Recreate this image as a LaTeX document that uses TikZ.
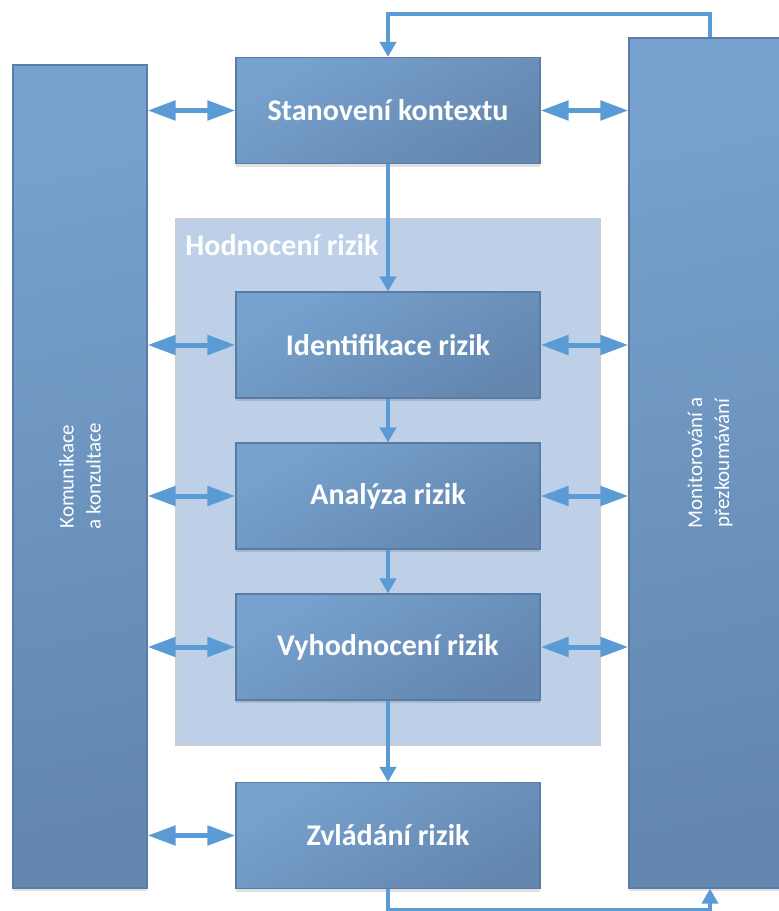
\documentclass[tikz,border=0pt]{standalone}
\usepackage{fontspec}
\setmainfont{Carlito}
\usetikzlibrary{arrows.meta,calc,shadows}

\definecolor{boxtop}{HTML}{77A2CF}
\definecolor{boxbot}{HTML}{6387AF}
\definecolor{boxline}{HTML}{5A7BA3}
\definecolor{flowblue}{HTML}{5B9BD5}
\definecolor{groupfill}{HTML}{BDD0E8}
\definecolor{groupline}{HTML}{C9CCD1}

\begin{document}
\begin{tikzpicture}[x=1pt,y=-1pt,
  softshadow/.style={drop shadow={shadow xshift=0pt,shadow yshift=-3pt,opacity=0.12,fill=black}},
  stagebox/.style={draw=boxline,line width=1.2pt,top color=boxtop,bottom color=boxbot,
    shading angle=30,minimum width=304pt,minimum height=106pt,inner sep=0pt,
    text=white,font=\fontsize{30}{36}\selectfont\bfseries,softshadow},
  sidebox/.style={draw=boxline,line width=1.2pt,top color=boxtop,bottom color=boxbot,
    shading angle=12,inner sep=0pt,softshadow},
  sidetext/.style={rotate=90,text=white,align=center,
    font=\fontsize{21}{27}\selectfont},
  groupbox/.style={draw=groupline,line width=1.5pt,fill=groupfill,inner sep=0pt},
  twoway/.style={draw=flowblue,line width=5pt,
    {Triangle[length=28pt,width=19pt]}-{Triangle[length=28pt,width=19pt]}},
  oneway/.style={draw=flowblue,line width=4pt,-{Triangle[length=15pt,width=16pt]}}
]
\clip (0,0) rectangle (779,911);

% assessment group behind the three assessment steps
\node[groupbox,minimum width=424pt,minimum height=526pt] (hod) at (388,482) {};
\node[anchor=west,text=white,font=\fontsize{30}{36}\selectfont\bfseries,inner sep=0pt]
  (hodtitle) at ($(hod.north west)+(10,27)$) {Hodnocení rizik};

% side columns
\node[sidebox,minimum width=134pt,minimum height=823pt] (kom) at (80,476.5) {};
\node[sidetext] (komtext) at (kom.center) {Komunikace\\a konzultace};
\node[sidebox,minimum width=162pt,minimum height=850pt] (mon) at (710,463) {};
\node[sidetext] (montext) at (mon.center) {Monitorování a\\přezkoumávání};

% process steps
\node[stagebox] (ctx) at (388,110.5) {Stanovení kontextu};
\node[stagebox] (ide) at (388,345) {Identifikace rizik};
\node[stagebox] (ana) at (388,496) {Analýza rizik};
\node[stagebox] (vyh) at (388,647) {Vyhodnocení rizik};
\node[stagebox] (zvl) at (388,835.5) {Zvládání rizik};

% main flow
\draw[oneway] (ctx) -- (ide);
\draw[oneway] (ide) -- (ana);
\draw[oneway] (ana) -- (vyh);
\draw[oneway] (vyh) -- (zvl);

% feedback loops with monitoring
\draw[oneway] (mon.north) -- ++(0,-23) -| (ctx.north);
\draw[oneway] (zvl.south) -- ++(0,21) -| (mon.south);

% links to communication
\foreach \s in {ctx,ide,ana,vyh,zvl}{
  \draw[twoway] (\s.west -| kom.east) -- (\s.west);
}
% links to monitoring
\foreach \s in {ctx,ide,ana,vyh}{
  \draw[twoway] (\s.east) -- (\s.east -| mon.west);
}
\end{tikzpicture}
\end{document}
